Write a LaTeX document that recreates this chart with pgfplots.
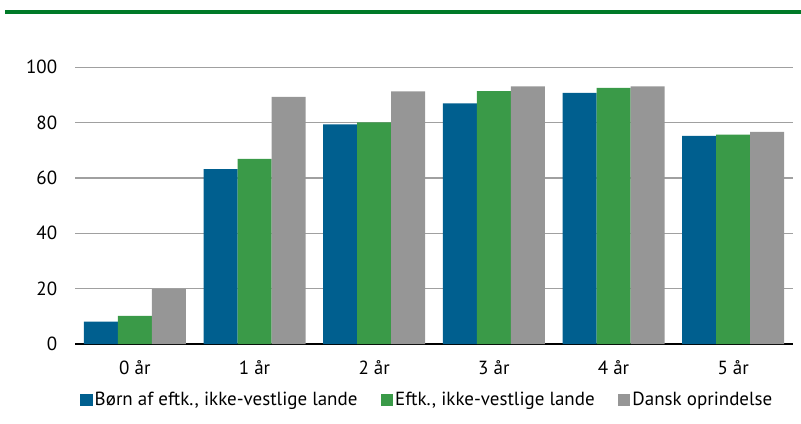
\documentclass[border=0pt]{standalone}
\usepackage{pgfplots}
\pgfplotsset{compat=1.18}
\usepackage{fontspec}
\setmainfont{PT Sans}
\definecolor{cblue}{RGB}{0,95,143}
\definecolor{cgreen}{RGB}{58,154,72}
\definecolor{cgray}{RGB}{150,150,150}
\definecolor{topgreen}{RGB}{0,122,40}
\definecolor{gridgray}{RGB}{160,160,160}
\newcommand{\chartfont}{\fontsize{19bp}{22bp}\selectfont}
\begin{document}
\begin{tikzpicture}[x=1bp,y=1bp]
\useasboundingbox (0,0) rectangle (801,423);
\draw[topgreen, line width=3.5bp] (5,411) -- (801,411);
\begin{axis}[
  at={(75bp,79bp)}, anchor=south west,
  scale only axis, width=718bp, height=276.7bp,
  xmin=-0.5, xmax=5.5, ymin=0, ymax=100,
  ytick={0,20,...,100}, xtick={0,...,5},
  xticklabels={0 år,1 år,2 år,3 år,4 år,5 år},
  ymajorgrids, grid style={gridgray, line width=1.5bp},
  extra y ticks={0}, extra y tick labels={},
  extra y tick style={grid style={black, line width=2.5bp}},
  axis line style={draw=none}, major tick length=0,
  tick label style={font=\chartfont},
  /pgf/number format/assume math mode=true,
  yticklabel style={xshift=-14.3bp},
  xticklabel style={yshift=-13bp},
  ybar, bar width=34bp,
  legend columns=3,
  legend style={at={(0.007,-0.2024)}, anchor=west, draw=none, fill=none,
    inner sep=0pt, outer sep=0pt, font=\chartfont,
    nodes={inner sep=2bp},
    /tikz/every even column/.append style={column sep=21bp}},
  legend image code/.code={\fill[#1] (0bp,-6.35bp) rectangle (12.7bp,6.35bp);},
]
\addplot[fill=cblue, draw=none, bar shift=-34bp] coordinates {(0,8.1) (1,63.2) (2,79.4) (3,87.0) (4,90.8) (5,75.2)};
\addplot[fill=cgreen, draw=none, bar shift=0bp] coordinates {(0,10.2) (1,66.9) (2,80.1) (3,91.4) (4,92.6) (5,75.7)};
\addplot[fill=cgray, draw=none, bar shift=34bp] coordinates {(0,19.8) (1,89.3) (2,91.3) (3,93.1) (4,93.1) (5,76.7)};
\legend{{Børn af eftk., ikke-vestlige lande}, {Eftk., ikke-vestlige lande}, {Dansk oprindelse}}
\node[anchor=base west, inner sep=0pt, font=\chartfont] at (rel axis cs:0,1) [yshift=24.3bp] {Pct.};
\end{axis}
\end{tikzpicture}
\end{document}
